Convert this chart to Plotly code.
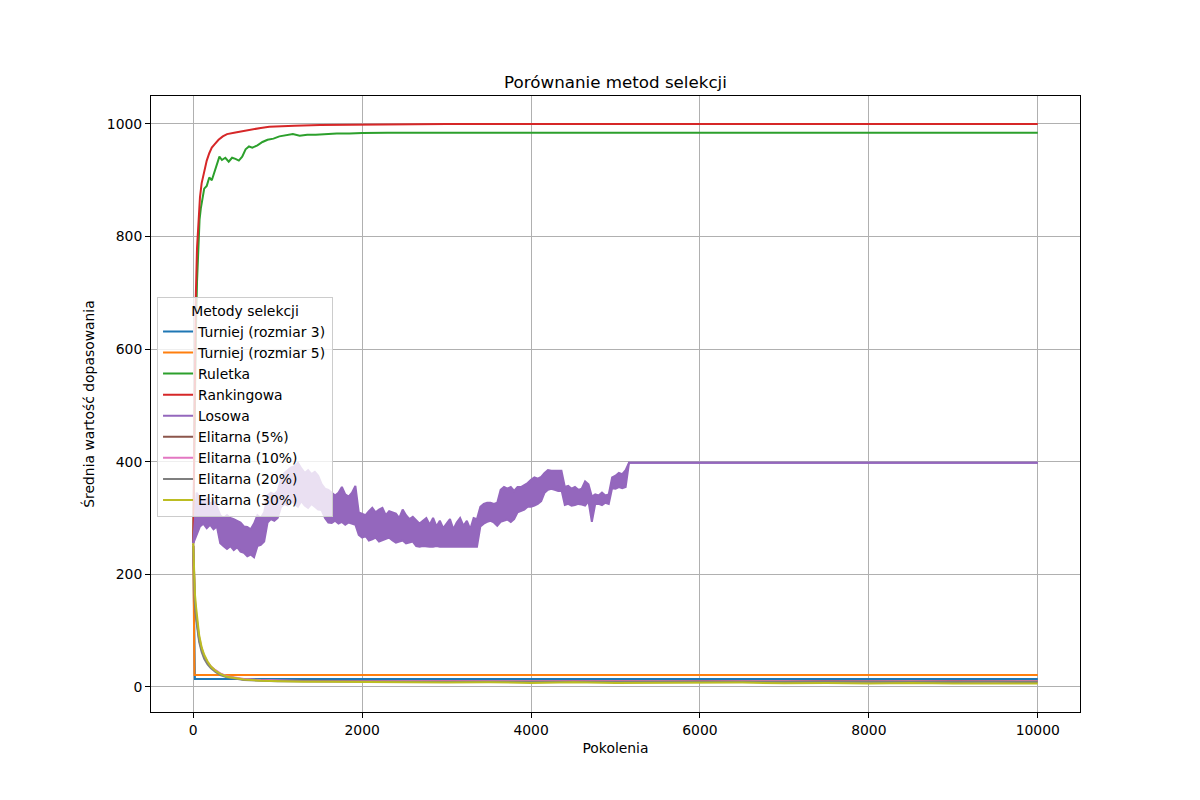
import plotly.graph_objects as go

# kolory domyslne (tab10)
colors = ["#1f77b4", "#ff7f0e", "#2ca02c", "#d62728", "#9467bd",
          "#8c564b", "#e377c2", "#7f7f7f", "#bcbd22"]

names = ["Turniej (rozmiar 3)", "Turniej (rozmiar 5)", "Ruletka", "Rankingowa", "Losowa",
         "Elitarna (5%)", "Elitarna (10%)", "Elitarna (20%)", "Elitarna (30%)"]

# Turniej
turniej3_gen = [0, 5, 10, 15, 20, 10000]
turniej3_val = [250, 160, 70, 20, 14, 14]
turniej5_gen = [0, 5, 10, 15, 10000]
turniej5_val = [250, 170, 80, 21, 21]

# Ruletka
ruletka_gen = [0, 15, 30, 45, 60, 75, 90, 110, 130, 160, 190, 220, 250, 280, 310, 340, 380, 420,
               460, 500, 540, 580, 620, 660, 700, 760, 820, 880, 950, 1020, 1100, 1180, 1260,
               1350, 1450, 1550, 1700, 1850, 2000, 2300, 10000]
ruletka_val = [255, 450, 620, 720, 790, 830, 850, 870, 885, 890, 905, 900, 915, 930, 942, 936, 940,
               933, 940, 938, 935, 942, 955, 960, 958, 962, 968, 972, 974, 978, 980, 982, 979,
               981, 981, 982, 983, 983, 984, 984.5, 984.5]

# Rankingowa
ranking_gen = [0, 10, 20, 30, 45, 60, 80, 100, 130, 160, 190, 220, 260, 300, 350, 400, 500, 600,
               700, 800, 900, 1000, 1200, 1500, 2000, 3000, 10000]
ranking_val = [255, 420, 580, 690, 780, 830, 870, 895, 915, 935, 948, 958, 965, 972, 978, 982, 985,
               988, 990, 993, 995, 996, 997, 998, 999, 1000, 1000]

# Losowa - silnie zaszumiona, odczytana jako dolna i gorna obwiednia co 40 pokolen
losowa_gen = list(range(0, 5200, 40)) + [10000]
losowa_low = [255, 270, 285, 290, 282, 288, 280, 285, 255, 250,
              245, 250, 243, 248, 240, 238, 232, 235, 230, 250,
              252, 258, 292, 298, 295, 300, 320, 325, 322, 330,
              325, 320, 330, 322, 318, 325, 320, 315, 314, 300,
              292, 291, 295, 290, 293, 288, 292, 290, 288, 270,
              265, 268, 260, 262, 265, 258, 260, 262, 265, 260,
              256, 258, 260, 255, 256, 258, 250, 249, 250, 249,
              249, 249, 250, 249, 249, 249, 250, 249, 249, 249,
              249, 249, 249, 250, 249, 285, 290, 293, 295, 292,
              286, 293, 295, 297, 293, 298, 310, 312, 315, 320,
              320, 322, 325, 330, 345, 350, 352, 350, 348, 350,
              323, 325, 322, 323, 325, 324, 322, 330, 293, 325,
              325, 323, 327, 325, 353, 352, 355, 353, 355, 398,
              398]
losowa_high = [255, 345, 335, 330, 335, 325, 330, 320, 305, 300,
               305, 300, 298, 295, 292, 285, 284, 280, 290, 305,
               300, 310, 340, 345, 342, 348, 370, 380, 385, 390,
               392, 398, 388, 380, 385, 378, 382, 375, 360, 352,
               350, 345, 340, 345, 355, 342, 338, 345, 357, 310,
               308, 305, 312, 318, 310, 315, 318, 305, 312, 310,
               308, 300, 315, 305, 298, 302, 296, 290, 295, 300,
               288, 300, 285, 295, 282, 290, 298, 280, 292, 300,
               286, 295, 280, 300, 298, 320, 325, 327, 327, 325,
               327, 350, 355, 352, 355, 348, 355, 355, 358, 362,
               368, 372, 370, 373, 380, 385, 384, 384, 383, 384,
               355, 357, 352, 355, 350, 352, 365, 360, 338, 342,
               340, 345, 340, 342, 372, 375, 380, 378, 385, 398,
               398]

# Elitarna
elit_gen = [0, 10, 20, 35, 50, 70, 100, 130, 170, 210, 260, 320, 400, 500, 600, 800, 1000, 1300,
            1600, 2000, 2500, 3000, 3500, 4000, 4500, 5000, 5500, 6000, 6500, 7000, 7500, 8000,
            8500, 9000, 9500, 10000]
elit5_val = [254, 185, 150, 125, 104, 84, 66, 53, 42, 35, 29, 23, 18, 15, 13, 12, 11, 11, 10.5,
             10.5, 10, 10.5, 10, 10, 10.5, 10, 10, 10.5, 10, 10, 10.5, 10, 10, 10.5, 10, 10]
elit10_val = [252, 190, 155, 130, 108, 88, 68, 55, 44, 36, 30, 24, 19, 16, 14, 12, 11, 10.5, 10,
              10, 10, 9.5, 10, 9.5, 10, 9.5, 10, 9.5, 10, 9.5, 10, 9.5, 10, 9.5, 10, 9.5]
elit20_val = [250, 180, 145, 120, 100, 80, 62, 50, 40, 33, 27, 21, 17, 14, 12, 11, 10, 10, 9.5,
              9, 9, 8.5, 9, 8.5, 9, 8.5, 9, 8.5, 9, 8.5, 9, 8.5, 9, 8.5, 9, 8.5]
elit30_val = [255, 200, 165, 140, 115, 92, 70, 57, 45, 36, 29, 23, 18, 15, 13, 11, 10, 9, 9, 8, 8,
              7.5, 8, 7, 8, 7, 7.5, 7, 7.5, 6.5, 7, 6, 7, 6, 6.5, 6]

font = "DejaVu Sans"

fig = go.Figure()

def add_line(x, y, i):
    fig.add_trace(go.Scatter(x=x, y=y, mode="lines", name=names[i],
                             line=dict(color=colors[i], width=2)))

add_line(turniej3_gen, turniej3_val, 0)
add_line(turniej5_gen, turniej5_val, 1)
add_line(ruletka_gen, ruletka_val, 2)
add_line(ranking_gen, ranking_val, 3)

# Losowa: pasmo szumu miedzy obwiedniami
fig.add_trace(go.Scatter(x=losowa_gen, y=losowa_low, mode="lines", name=names[4],
                         legendgroup="losowa", line=dict(color=colors[4], width=2)))
fig.add_trace(go.Scatter(x=losowa_gen, y=losowa_high, mode="lines", name=names[4],
                         legendgroup="losowa", showlegend=False, fill="tonexty",
                         fillcolor=colors[4], line=dict(color=colors[4], width=2)))

add_line(elit_gen, elit5_val, 5)
add_line(elit_gen, elit10_val, 6)
add_line(elit_gen, elit20_val, 7)
add_line(elit_gen, elit30_val, 8)

axis_style = dict(showline=True, mirror=True, linecolor="black", linewidth=1,
                  ticks="outside", ticklen=5, tickwidth=1, tickcolor="black",
                  showgrid=True, gridcolor="#b0b0b0", gridwidth=1, zeroline=False,
                  tickfont=dict(family=font, size=13.9, color="black"))

# strona ma 8px marginesu body, stad 1184x784
W, H = 1184, 784
fig.update_layout(
    width=W, height=H,
    margin=dict(l=143, r=112, t=88, b=80),
    paper_bgcolor="white", plot_bgcolor="white",
    font=dict(family=font, size=13.9, color="black"),
    title=dict(text="Porównanie metod selekcji", x=0.5, xref="paper", xanchor="center",
               y=1 - 74 / H, yref="container", yanchor="middle",
               font=dict(family=font, size=16.7, color="black")),
    xaxis=dict(axis_style, range=[-500, 10500], tickvals=[0, 2000, 4000, 6000, 8000, 10000],
               tickformat="d",
               title=dict(text="Pokolenia", standoff=6, font=dict(family=font, size=13.9))),
    yaxis=dict(axis_style, range=[-44.7, 1049.7], tickvals=[0, 200, 400, 600, 800, 1000],
               tickformat="d",
               title=dict(text="Średnia wartość dopasowania", standoff=8,
                          font=dict(family=font, size=13.9))),
    legend=dict(x=0.0065, y=0.674, xanchor="left", yanchor="top",
                bgcolor="rgba(255,255,255,0.8)", bordercolor="#cccccc", borderwidth=1,
                title=dict(text="Metody selekcji", side="top center",
                           font=dict(family=font, size=13.9)),
                font=dict(family=font, size=13.9), tracegroupgap=0),
)

fig.write_html("out.html")
